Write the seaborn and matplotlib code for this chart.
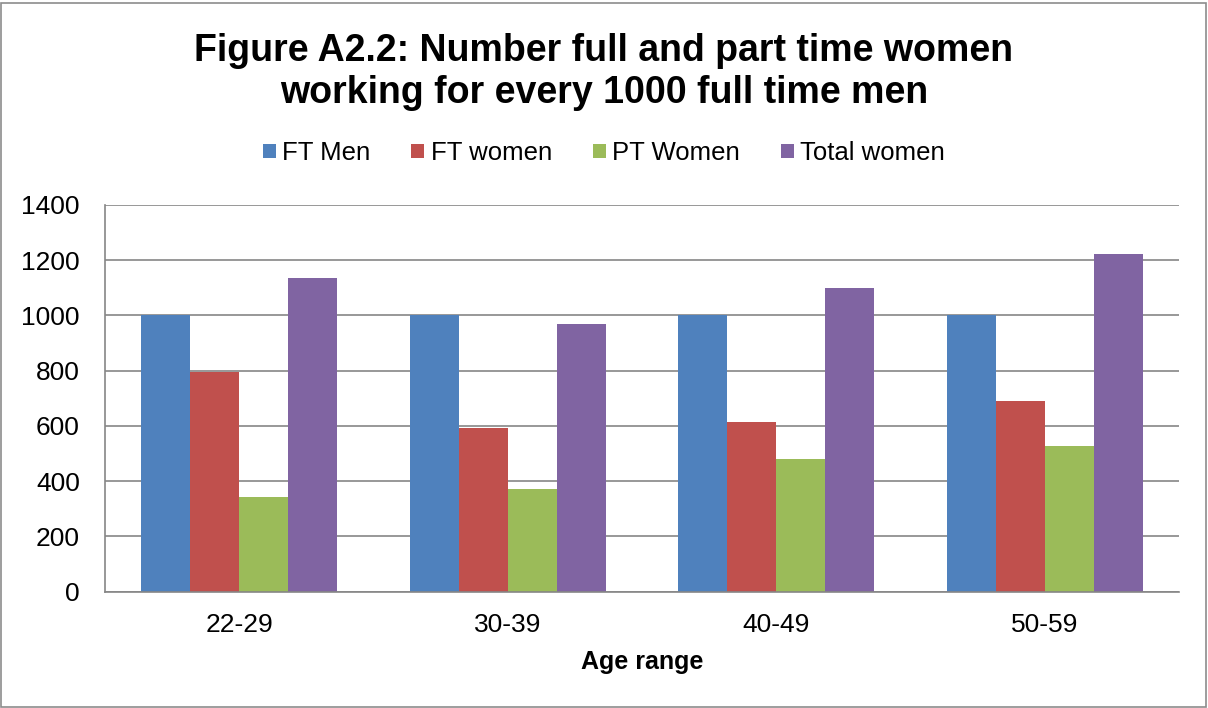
import numpy as np
import pandas as pd
import matplotlib
matplotlib.use("Agg")
import matplotlib.pyplot as plt
from matplotlib.patches import Rectangle
import seaborn as sns

age_ranges = ["22-29", "30-39", "40-49", "50-59"]
series_names = ["FT Men", "FT women", "PT Women", "Total women"]
ft_men = [1000, 1000, 1000, 1000]
ft_women = [797, 591, 616, 691]
pt_women = [342, 372, 480, 527]
total_women = [1137, 968, 1101, 1222]
y_ticks = [0, 200, 400, 600, 800, 1000, 1200, 1400]

colors = ["#4F81BD", "#C0504D", "#9BBB59", "#8064A2"]

rows = []
for name, vals in zip(series_names, [ft_men, ft_women, pt_women, total_women]):
    for age, v in zip(age_ranges, vals):
        rows.append([age, name, v])
df = pd.DataFrame(rows, columns=["Age range", "Series", "Value"])

sns.set_style("white")
plt.rcParams["font.family"] = ["Liberation Sans", "DejaVu Sans"]
plt.rcParams["text.color"] = "black"
plt.rcParams["xtick.labelcolor"] = "black"
plt.rcParams["ytick.labelcolor"] = "black"
plt.rcParams["axes.labelcolor"] = "black"

fig = plt.figure(figsize=(12.08, 7.08), dpi=100)
ax = fig.add_axes([0.0869, 0.1643, 0.976 - 0.0869, 0.7105 - 0.1643])

sns.barplot(data=df, x="Age range", y="Value", hue="Series", order=age_ranges,
            hue_order=series_names, palette=colors, saturation=1, width=0.73,
            linewidth=0, ax=ax, legend=True)

grid_c = "#868686"
ax.set_ylim(0, 1400)
ax.set_xlim(-0.5, 3.5)
ax.set_yticks(y_ticks)
ax.set_yticklabels([str(t) for t in y_ticks], fontsize=19)
ax.yaxis.grid(True, color=grid_c, linewidth=1.2)
ax.set_axisbelow(True)
ax.tick_params(axis="y", length=6, width=1.2, color=grid_c, direction="out", pad=12)
ax.tick_params(axis="x", which="major", length=0, labelsize=19, pad=15)
ax.set_xticks(np.arange(-0.5, 4.0, 1.0), minor=True)
ax.tick_params(axis="x", which="minor", length=8, width=1.2, color=grid_c, direction="out")
for side in ["top", "right"]:
    ax.spines[side].set_visible(False)
for side in ["left", "bottom"]:
    ax.spines[side].set_color(grid_c)
    ax.spines[side].set_linewidth(1.2)
ax.set_ylabel("")
ax.set_xlabel("Age range", fontsize=18, fontweight="bold", labelpad=10)

handles, labels = ax.get_legend_handles_labels()
ax.get_legend().remove()
fig.legend(handles, labels, loc="center", bbox_to_anchor=(0.5, 1 - 153 / 708), ncol=4,
           frameon=False, fontsize=18.5, handlelength=0.5, handleheight=0.5,
           handletextpad=0.25, columnspacing=1.6)

fig.text(0.5, 1 - 72 / 708, "Figure A2.2: Number full and part time women\nworking for every 1000 full time men",
         ha="center", va="center", fontsize=27, fontweight="bold", linespacing=1.2)

fig.patches.append(Rectangle((0.001, 0.001), 0.997, 0.995, transform=fig.transFigure,
                             fill=False, edgecolor="#8c8c8c", linewidth=1.2))

fig.savefig("out.png", dpi=100)
